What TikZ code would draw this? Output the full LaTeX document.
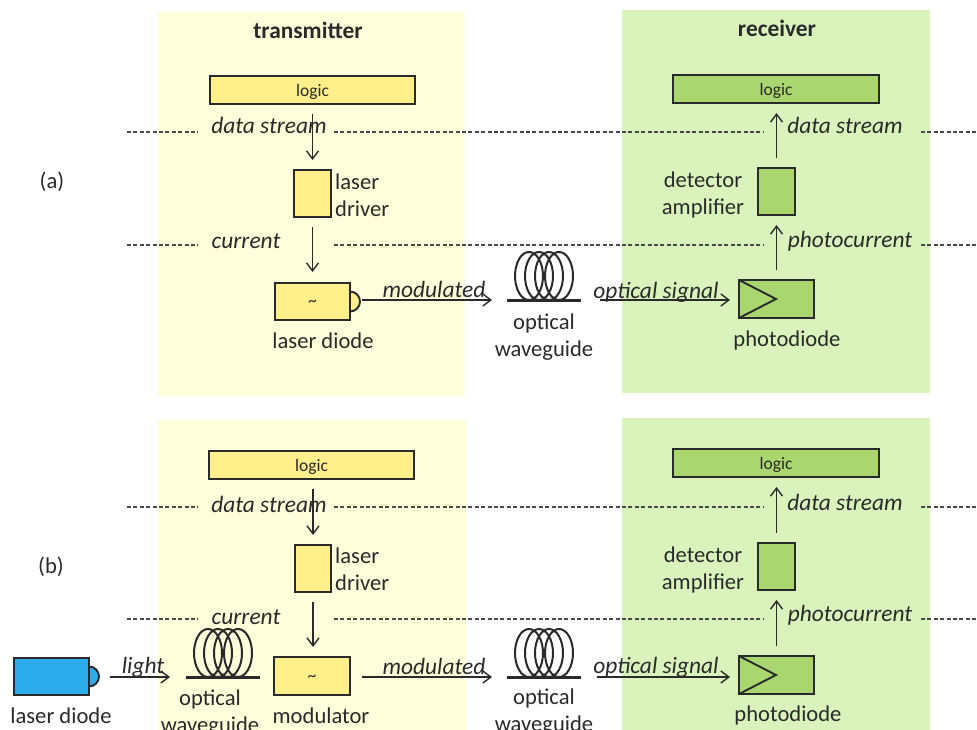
\documentclass[tikz,border=0pt]{standalone}
\usepackage{fontspec}
\setmainfont{Carlito}
\usetikzlibrary{arrows.meta,calc}
\definecolor{panelY}{HTML}{FFFFDC}
\definecolor{panelG}{HTML}{DAF3BD}
\definecolor{boxY}{HTML}{FFF08C}
\definecolor{boxG}{HTML}{A9D66F}
\definecolor{boxB}{HTML}{2CACEB}
\definecolor{ink}{HTML}{2A2A2A}
\tikzset{
  x=1pt,y=-1pt,
  block/.style={draw=ink,line width=1.9pt,inner sep=0pt,outer sep=0pt},
  ybox/.style={block,fill=boxY},
  gbox/.style={block,fill=boxG},
  bbox/.style={block,fill=boxB},
  lbl/.style={font=\fontsize{22.6}{22.6}\selectfont,text=ink,inner sep=0pt,text height=15pt,text depth=5pt,yshift=-1.5pt},
  ilbl/.style={lbl,font=\fontsize{23.4}{23.4}\selectfont\itshape},
  small/.style={font=\fontsize{17.5}{17.5}\selectfont,text=ink,inner sep=0pt,yshift=-2pt},
  head/.style={lbl,font=\fontsize{23.4}{23.4}\selectfont\bfseries},
  arr/.style={draw=ink,line width=1.4pt,-{Straight Barb[length=8pt,width=12pt,line width=1.4pt]}},
  dash line/.style={draw=ink!85,line width=1.3pt,dash pattern=on 4pt off 2.4pt},
  coilbox/.style={minimum width=74pt,minimum height=48pt,inner sep=0pt,outer sep=0pt},
}
\newcommand{\coildraw}[1]{%
  \foreach \dx in {-15,-5,5,15}
    \draw[ink,line width=2pt] ($(#1.center)+(\dx,0)$) ellipse [x radius=14pt,y radius=24pt];
  \draw[ink,line width=3pt] (#1.south west) -- (#1.south east);
}
\newcommand{\bumpdraw}[2]{%
  \draw[ink,line width=1.9pt,fill=#2] ([yshift=10pt]#1.east) arc[start angle=90,end angle=-90,radius=10pt] -- cycle;
}
\newcommand{\blockat}[6]{\node[#1,minimum width=#4pt-#2pt,minimum height=#5pt-#3pt] (#6) at ({(#2+#4)/2},{(#3+#5)/2}) {};}
\begin{document}
\begin{tikzpicture}
\useasboundingbox (0,0) rectangle (977,730);
% panels
\fill[panelY] (158,12) rectangle (465,396);
\fill[panelG] (622,10) rectangle (930,393);
\fill[panelY] (158,420) rectangle (466,730);
\fill[panelG] (622,418) rectangle (930,730);

% dashed lines
\foreach \n/\y in {a1/132,a2/245,b1/507,b2/619}{
  \coordinate (\n L1) at (127,\y);
  \coordinate (\n L2) at (198,\y);
  \coordinate (\n M1) at (334,\y);
  \coordinate (\n M2) at (764,\y);
  \coordinate (\n R1) at (921,\y);
  \coordinate (\n R2) at (977,\y);
  \draw[dash line] (\n L1) -- (\n L2);
  \draw[dash line] (\n M1) -- (\n M2);
  \draw[dash line] (\n R1) -- (\n R2);
}

% ---- part (a) ----
\node[head] (ttx) at (308,32) {transmitter};
\node[head] (trx) at (777,30) {receiver};
\node[lbl] (pa) at (52,182) {(a)};
\blockat{ybox}{210}{76}{415}{104}{alogic}
\node[small] (alogict) at (alogic) {logic};
\blockat{ybox}{294}{170}{331}{217}{adrv}
\blockat{ybox}{275}{283}{350}{320}{ald}
\bumpdraw{ald}{boxY}
\node[small] (aldt) at (ald) {\textasciitilde};
\node[coilbox] (acoil) at (544,276) {};
\coildraw{acoil}
\blockat{gbox}{739}{280}{814}{318}{apd}
\draw[ink,line width=1.9pt] (apd.north west) -- ($(apd.west)+(37,0)$) -- (apd.south west);
\blockat{gbox}{758}{168}{795}{215}{aamp}
\blockat{gbox}{673}{75}{879}{103}{arlogic}
\node[small] (arlogict) at (arlogic) {logic};

\node[ilbl] (ads) at (269,127) {data stream};
\node[ilbl] (acur) at (246,242) {current};
\node[lbl,anchor=west] (alaser) at (335,183) {laser};
\node[lbl,anchor=west] (adriver) at (335,210) {driver};
\node[lbl] (aldl) at (323,342) {laser diode};
\node[ilbl] (amod) at (434,291) {modulated};
\node[lbl] (aopt) at (544,323) {optical};
\node[lbl] (awg) at (544,350) {waveguide};
\node[ilbl] (aos) at (656,292) {optical signal};
\node[lbl] (apdl) at (787,340) {photodiode};
\node[lbl] (adet) at (703,181) {detector};
\node[lbl] (aampl) at (703,208) {amplifier};
\node[ilbl] (ards) at (845,127) {data stream};
\node[ilbl] (apc) at (850,241) {photocurrent};

\draw[arr,shorten <=10pt,shorten >=10pt] (alogic.south -| adrv.north) -- (adrv.north);
\draw[arr,shorten <=10pt,shorten >=11pt] (adrv.south) -- (ald.north -| adrv.south);
\draw[arr,shorten <=12pt,shorten >=15pt] (ald.east |- acoil.south) -- (acoil.south west);
\draw[arr,shorten <=19pt,shorten >=9pt] (acoil.south east) -- (apd.west |- acoil.south);
\draw[arr,shorten <=10pt,shorten >=10pt] (apd.north -| aamp.north) -- (aamp.south);
\draw[arr,shorten <=10pt,shorten >=10pt] (aamp.north) -- (arlogic.south -| aamp.north);

% ---- part (b) ----
\node[lbl] (pb) at (51,567) {(b)};
\blockat{ybox}{209}{451}{414}{479}{blogic}
\node[small] (blogict) at (blogic) {logic};
\blockat{ybox}{295}{545}{331}{592}{bdrv}
\blockat{ybox}{274}{657}{350}{695}{bmodu}
\node[small] (bmodt) at (bmodu) {\textasciitilde};
\blockat{bbox}{14}{658}{89}{695}{bld}
\bumpdraw{bld}{boxB}
\node[coilbox] (bcoila) at (223,653) {};
\coildraw{bcoila}
\node[coilbox] (bcoilb) at (544,653) {};
\coildraw{bcoilb}
\blockat{gbox}{739}{656}{814}{694}{bpd}
\draw[ink,line width=1.9pt] (bpd.north west) -- ($(bpd.west)+(37,0)$) -- (bpd.south west);
\blockat{gbox}{758}{543}{795}{590}{bamp}
\blockat{gbox}{673}{449}{879}{477}{brlogic}
\node[small] (brlogict) at (brlogic) {logic};

\node[ilbl] (bds) at (269,506) {data stream};
\node[ilbl] (bcur) at (246,618) {current};
\node[lbl,anchor=west] (blaser) at (335,557) {laser};
\node[lbl,anchor=west] (bdriver) at (335,584) {driver};
\node[ilbl] (blight) at (143,667) {light};
\node[lbl] (bopt1) at (210,699) {optical};
\node[lbl] (bwg1) at (210,726) {waveguide};
\node[lbl] (bmodl) at (321,717) {modulator};
\node[lbl] (bldl) at (61,717) {laser diode};
\node[ilbl] (bmod) at (434,668) {modulated};
\node[lbl] (bopt2) at (544,698) {optical};
\node[lbl] (bwg2) at (544,725) {waveguide};
\node[ilbl] (bos) at (656,667) {optical signal};
\node[lbl] (bpdl) at (788,715) {photodiode};
\node[lbl] (bdet) at (703,556) {detector};
\node[lbl] (bampl) at (703,583) {amplifier};
\node[ilbl] (brds) at (845,504) {data stream};
\node[ilbl] (bpc) at (850,615) {photocurrent};

\draw[arr,shorten <=10pt,shorten >=10pt] (blogic.south -| bdrv.north) -- (bdrv.north);
\draw[arr,shorten <=10pt,shorten >=10pt] (bdrv.south) -- (bmodu.north -| bdrv.south);
\draw[arr,shorten <=21pt,shorten >=16pt] (bld.east |- bcoila.south) -- (bcoila.south west);
\draw[arr,shorten <=12pt,shorten >=15pt] (bmodu.east |- bcoilb.south) -- (bcoilb.south west);
\draw[arr,shorten <=16pt,shorten >=9pt] (bcoilb.south east) -- (bpd.west |- bcoilb.south);
\draw[arr,shorten <=10pt,shorten >=10pt] (bpd.north -| bamp.north) -- (bamp.south);
\draw[arr,shorten <=10pt,shorten >=10pt] (bamp.north) -- (brlogic.south -| bamp.north);
\end{tikzpicture}
\end{document}
